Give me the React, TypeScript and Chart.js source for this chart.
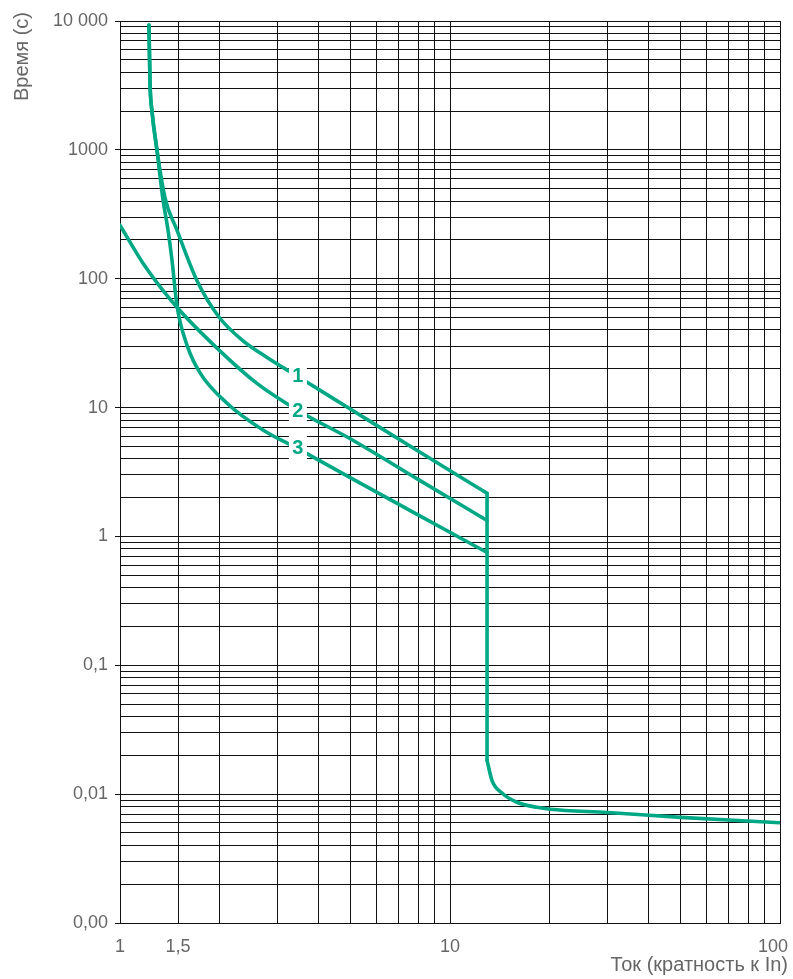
import React, { useEffect, useRef } from "react";
import { Chart, registerables } from "chart.js";

Chart.register(...registerables);

// ---- Data ----
const curve1X = [1.224, 1.233, 1.25, 1.294, 1.37, 1.488, 1.71, 2.0, 2.36, 2.79, 3.46, 5, 8, 12.95];
const curve1Y = [9300, 3300, 2000, 1000, 420, 238, 97, 50, 33, 24.5, 17.4, 9.7, 4.6, 2.16];

const curve2X = [1.0, 1.174, 1.488, 2.0, 2.6, 3.46, 5, 8, 12.95];
const curve2Y = [260, 132, 60, 27.8, 15.4, 9.5, 5.7, 2.77, 1.33];

const curve3X = [1.224, 1.233, 1.25, 1.294, 1.35, 1.398, 1.437, 1.488, 1.6, 1.75, 2.11, 2.71, 3.46, 5, 8, 12.95];
const curve3Y = [9300, 3300, 2000, 1000, 410, 238, 140, 62, 30, 18.5, 10.8, 6.7, 4.8, 2.85, 1.47, 0.75];

const dropX = [12.95, 12.95];
const dropY = [2.16, 0.0183];

const tailX = [12.95, 13.4, 14.4, 15.96, 18.35, 20.1, 30, 50, 100];
const tailY = [0.0183, 0.0128, 0.01016, 0.00865, 0.0079, 0.00764, 0.0072, 0.0066, 0.006];

const curveLabelTexts = ["1", "2", "3"];
const curveLabelX = [3.46, 3.46, 3.46];
const curveLabelY = [17.8, 9.5, 4.9];

const xGridValues = [1, 1.5, 2, 3, 4, 5, 6, 7, 8, 9, 10, 20, 30, 40, 50, 60, 70, 80, 90, 100];
const xLabelValues = [1, 1.5, 10, 100];
const xLabelTexts = ["1", "1,5", "10", "100"];

const yDecades = [0.001, 0.01, 0.1, 1, 10, 100, 1000];
const yMultipliers = [1, 2, 3, 4, 5, 6, 7, 8, 9];
const yLabelValues = [0.001, 0.01, 0.1, 1, 10, 100, 1000, 10000];
const yLabelTexts = ["0,00", "0,01", "0,1", "1", "10", "100", "1000", "10 000"];

const xTitle = "Ток (кратность к In)";
const yTitle = "Время (с)";

// ---- Styles ----
const TEAL = "#00a886";
const TEXT_GRAY = "#666666";
const GRID = "#111111";
const FONT = "'Liberation Sans', Arial, sans-serif";

const pairs = (xs: number[], ys: number[]) => xs.map((x, i) => ({ x, y: ys[i] }));
const near = (a: number, b: number) => Math.abs(Math.log10(a) - Math.log10(b)) < 1e-6;

const yGridValues: number[] = [];
yDecades.forEach((d) => yMultipliers.forEach((m) => yGridValues.push(+(d * m).toPrecision(6))));
yGridValues.push(10000);

const overlayPlugin = {
  id: "overlay",
  afterDatasetsDraw(chart: any) {
    const ctx = chart.ctx;
    const xs = chart.scales.x;
    const ys = chart.scales.y;
    ctx.save();
    ctx.font = `bold 20px ${FONT}`;
    ctx.textAlign = "center";
    ctx.textBaseline = "middle";
    curveLabelTexts.forEach((t, i) => {
      const px = xs.getPixelForValue(curveLabelX[i]);
      const py = ys.getPixelForValue(curveLabelY[i]);
      ctx.fillStyle = "#ffffff";
      ctx.fillRect(px - 9, py - 12, 18, 24);
      ctx.fillStyle = TEAL;
      ctx.fillText(t, px, py + 1);
    });
    ctx.restore();
  },
  afterDraw(chart: any) {
    const ctx = chart.ctx;
    const xs = chart.scales.x;
    const W = chart.width;
    ctx.save();
    ctx.fillStyle = TEXT_GRAY;
    ctx.font = `18px ${FONT}`;
    ctx.textBaseline = "alphabetic";
    ctx.textAlign = "left";
    xLabelValues.forEach((v, i) => {
      const t = xLabelTexts[i];
      const w = ctx.measureText(t).width;
      let cx = xs.getPixelForValue(v);
      cx = Math.min(cx, W - 5 - w / 2);
      ctx.fillText(t, cx - w / 2, 952);
    });
    ctx.font = `20px ${FONT}`;
    ctx.textAlign = "right";
    ctx.fillText(xTitle, W - 5, 971);
    ctx.translate(28, 12);
    ctx.rotate(-Math.PI / 2);
    ctx.textAlign = "right";
    ctx.fillText(yTitle, 0, 0);
    ctx.restore();
  },
};

export default function App() {
  const ref = useRef<HTMLCanvasElement | null>(null);

  useEffect(() => {
    if (!ref.current) return;
    const lineDs = (data: any[], smooth: boolean) => ({
      data,
      showLine: true,
      borderColor: TEAL,
      backgroundColor: TEAL,
      borderWidth: 3.6,
      pointRadius: 0,
      cubicInterpolationMode: smooth ? "monotone" : "default",
      tension: 0,
      fill: false,
      borderCapStyle: "round",
      borderJoinStyle: "round",
    });
    const chart = new Chart(ref.current, {
      type: "scatter",
      data: {
        datasets: [
          lineDs(pairs(curve1X, curve1Y), true),
          lineDs(pairs(curve2X, curve2Y), true),
          lineDs(pairs(curve3X, curve3Y), true),
          lineDs(pairs(dropX, dropY), false),
          lineDs(pairs(tailX, tailY), true),
        ] as any,
      },
      options: {
        animation: false,
        responsive: true,
        maintainAspectRatio: false,
        layout: { padding: { top: 21, right: 13, left: 0, bottom: 0 } },
        plugins: { legend: { display: false }, tooltip: { enabled: false } },
        scales: {
          x: {
            type: "logarithmic",
            min: 1,
            max: 100,
            afterBuildTicks: (axis: any) => {
              axis.ticks = xGridValues.map((v) => ({ value: v }));
            },
            afterFit: (axis: any) => {
              axis.height = 56;
            },
            ticks: { display: false, autoSkip: false },
            grid: { color: GRID, lineWidth: 1, drawTicks: false },
            border: { display: true, color: GRID, width: 1 },
          },
          y: {
            type: "logarithmic",
            min: 0.001,
            max: 10000,
            afterBuildTicks: (axis: any) => {
              axis.ticks = yGridValues.map((v) => ({ value: v }));
            },
            afterFit: (axis: any) => {
              axis.width = 120;
            },
            ticks: {
              autoSkip: false,
              padding: 7,
              color: TEXT_GRAY,
              font: { family: FONT, size: 18 },
              callback: (value: any) => {
                const idx = yLabelValues.findIndex((v) => near(v, Number(value)));
                return idx >= 0 ? yLabelTexts[idx] : "";
              },
            },
            grid: {
              color: GRID,
              lineWidth: 1,
              drawTicks: true,
              tickLength: 5,
              tickColor: (c: any) =>
                c.tick && yLabelValues.some((v) => near(v, c.tick.value)) ? GRID : "rgba(0,0,0,0)",
            },
            border: { display: true, color: GRID, width: 1 },
          },
        },
      } as any,
      plugins: [overlayPlugin],
    });
    return () => chart.destroy();
  }, []);

  return (
    <div style={{ position: "fixed", left: 0, top: 0, width: 793, height: 979, background: "#fff" }}>
      <canvas ref={ref} />
    </div>
  );
}
